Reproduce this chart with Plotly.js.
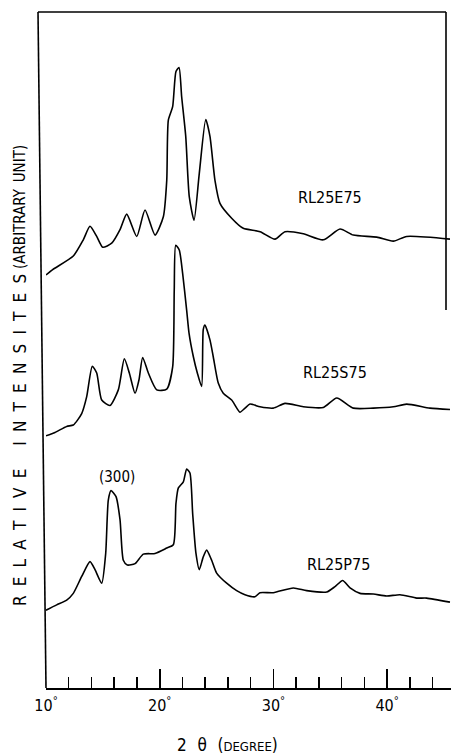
<!DOCTYPE html>
<html>
<head>
<meta charset="utf-8">
<script src="https://cdn.plot.ly/plotly-3.0.1.min.js"></script>
<style>html,body{margin:0;padding:0;background:#fff;}#chart{width:451px;height:755px;}</style>
</head>
<body>
<div id="chart"></div>
<script>
// 2-theta (degree) and relative intensity (arbitrary units, offset curves)
const e75X = [10, 10.59, 12.40, 13.28, 13.87, 14.46, 14.99, 15.78, 16.51, 17.10, 17.98, 18.71, 19.59, 20.32, 20.62, 20.76, 21.14, 21.43, 21.70, 21.93, 22.29, 22.60, 23.02, 23.48, 24.05, 24.42, 24.86, 25.30, 26.33, 27.35, 28.83, 30.14, 31.02, 32.63, 34.39, 35.86, 37.03, 39.09, 40.55, 41.72, 45.53];
const e75Y = [61.1, 61.9, 63.9, 66.3, 68.3, 66.8, 65.2, 65.8, 67.8, 70.1, 66.8, 70.7, 67.0, 69.7, 75.1, 84.0, 86.0, 91.2, 91.8, 87.5, 81.6, 72.7, 69.2, 76.1, 84.1, 81.6, 75.1, 71.7, 69.5, 68.0, 67.5, 66.4, 67.5, 67.2, 66.3, 67.9, 67.0, 66.7, 66.1, 66.8, 66.4];

const s75X = [10, 10.79, 11.82, 12.40, 13.14, 13.58, 14.07, 14.46, 14.90, 15.63, 16.36, 16.89, 17.33, 17.83, 18.18, 18.50, 19.00, 19.74, 20.62, 21.14, 21.28, 21.41, 21.72, 22.02, 22.37, 22.58, 22.96, 23.31, 23.69, 23.83, 23.98, 24.42, 24.71, 25.15, 25.59, 26.33, 27.06, 27.50, 27.94, 28.82, 29.99, 31.02, 32.63, 34.39, 35.57, 37.03, 38.79, 40.55, 41.72, 43.77, 45.53];
const s75Y = [37.3, 37.8, 38.7, 38.9, 40.6, 43.1, 47.6, 46.6, 42.6, 41.8, 44.1, 48.7, 46.6, 43.6, 45.6, 48.9, 46.6, 44.1, 44.2, 47.5, 58.9, 65.5, 64.8, 61.3, 55.9, 52.5, 49.0, 46.6, 44.6, 53.0, 53.7, 51.5, 49.0, 45.1, 43.6, 42.6, 40.8, 41.4, 42.0, 41.6, 41.4, 42.1, 41.6, 41.5, 42.9, 41.4, 41.4, 41.6, 42.0, 41.4, 41.2];

const p75X = [10, 10.94, 11.82, 12.40, 13.14, 13.87, 14.31, 14.90, 15.25, 15.48, 15.72, 16.16, 16.51, 16.80, 17.15, 17.83, 18.56, 19.59, 20.62, 21.20, 21.43, 21.64, 22.08, 22.37, 22.66, 22.90, 23.19, 23.48, 23.83, 24.13, 24.57, 25.01, 25.89, 26.77, 27.50, 28.38, 28.82, 29.99, 31.75, 32.93, 34.69, 35.42, 36.09, 36.74, 37.62, 38.79, 39.96, 41.13, 42.60, 43.48, 45.53];
const p75Y = [11.5, 12.3, 13.0, 14.0, 16.5, 18.7, 17.5, 15.5, 19.9, 27.8, 29.2, 28.3, 24.9, 18.9, 18.2, 18.4, 19.8, 19.9, 20.7, 21.2, 27.3, 29.6, 30.5, 32.4, 31.8, 25.8, 19.9, 17.5, 19.4, 20.4, 18.9, 17.0, 15.5, 14.4, 13.8, 13.5, 14.1, 14.1, 14.8, 14.4, 14.2, 15.0, 15.9, 14.8, 14.0, 13.9, 13.6, 13.8, 13.3, 13.3, 12.7];

const seriesNames = ['RL25E75', 'RL25S75', 'RL25P75'];
const labelX = [34.98, 35.42, 35.70];
const labelY = [72.5, 46.7, 18.2];
const peakLabel = '(300)';
const peakLabelX = 16.24;
const peakLabelY = 31.2;

const tickVals = [10, 20, 30, 40];
const tickText = ['10<sup>°</sup>', '20<sup>°</sup>', '30<sup>°</sup>', '40<sup>°</sup>'];

const FONT = '"Liberation Sans Narrow", "DejaVu Sans Condensed", "Liberation Sans", Arial, sans-serif';
const lineStyle = {color: '#000', width: 1.6, shape: 'spline', smoothing: 0.6};

const traces = [
  {x: e75X, y: e75Y, mode: 'lines', line: lineStyle, hoverinfo: 'skip'},
  {x: s75X, y: s75Y, mode: 'lines', line: lineStyle, hoverinfo: 'skip'},
  {x: p75X, y: p75Y, mode: 'lines', line: lineStyle, hoverinfo: 'skip'}
];

const sp = '\u2002\u200A';
const yMain = ['R','E','L','A','T','I','V','E'].join(sp) + '\u2003\u2002' + ['I','N','T','E','N','S','I','T','E','S'].join(sp);

const annotations = seriesNames.map((n, i) => ({
  x: labelX[i], y: labelY[i], xref: 'x', yref: 'y', text: n, showarrow: false,
  font: {family: FONT, size: 16, color: '#000'}, xanchor: 'center', yanchor: 'middle'
}));
annotations.push({x: peakLabelX, y: peakLabelY, xref: 'x', yref: 'y', text: peakLabel, showarrow: false,
  font: {family: FONT, size: 15, color: '#000'}, xanchor: 'center', yanchor: 'middle'});
annotations.push({x: -26/405, y: (688-440)/676, xref: 'paper', yref: 'paper', text: yMain, textangle: -90,
  showarrow: false, font: {family: FONT, size: 17, color: '#000'}, xanchor: 'center', yanchor: 'middle'});
annotations.push({x: -26/405, y: (688-207)/676, xref: 'paper', yref: 'paper', text: '(ARBITRARY\u2002UNIT)', textangle: -90,
  showarrow: false, font: {family: FONT, size: 15, color: '#000'}, xanchor: 'center', yanchor: 'middle'});
annotations.push({x: (227-46)/405, y: -(745-688)/676, xref: 'paper', yref: 'paper',
  text: '2\u2002\u2009θ\u2002\u2009(<span style="font-size:13px">DEGREE</span>)', showarrow: false,
  font: {family: FONT, size: 17, color: '#000'}, xanchor: 'center', yanchor: 'middle'});

const shapes = [
  {type: 'line', xref: 'paper', yref: 'paper', x0: -8/405, y0: 1, x1: 0, y1: 0, line: {color: '#000', width: 1.6}},
  {type: 'line', xref: 'paper', yref: 'paper', x0: -8/405, y0: 1, x1: 400/405, y1: 1, line: {color: '#000', width: 1.6}},
  {type: 'line', xref: 'paper', yref: 'paper', x0: 400/405, y0: 1, x1: 400/405, y1: (688-310)/676, line: {color: '#000', width: 1.6}}
];

const layout = {
  width: 451, height: 755,
  margin: {l: 46, r: 0, t: 12, b: 67},
  paper_bgcolor: '#fff', plot_bgcolor: '#fff',
  showlegend: false,
  font: {family: FONT, color: '#000'},
  xaxis: {
    range: [10, 10 + 405 / 11.37], showgrid: false, zeroline: false,
    showline: true, linecolor: '#000', linewidth: 1.6,
    ticks: 'inside', ticklen: 19, tickwidth: 1.6, tickcolor: '#000',
    tickvals: tickVals, ticktext: tickText, ticklabelstandoff: 2,
    tickfont: {family: FONT, size: 16, color: '#000'},
    minor: {dtick: 2, tick0: 10, ticks: 'inside', ticklen: 11, tickwidth: 1.5, tickcolor: '#000', showgrid: false}
  },
  yaxis: {range: [0, 100], showgrid: false, zeroline: false, showline: false, showticklabels: false, ticks: ''},
  annotations: annotations,
  shapes: shapes
};

Plotly.newPlot('chart', traces, layout, {staticPlot: true, displayModeBar: false});
</script>
</body>
</html>
